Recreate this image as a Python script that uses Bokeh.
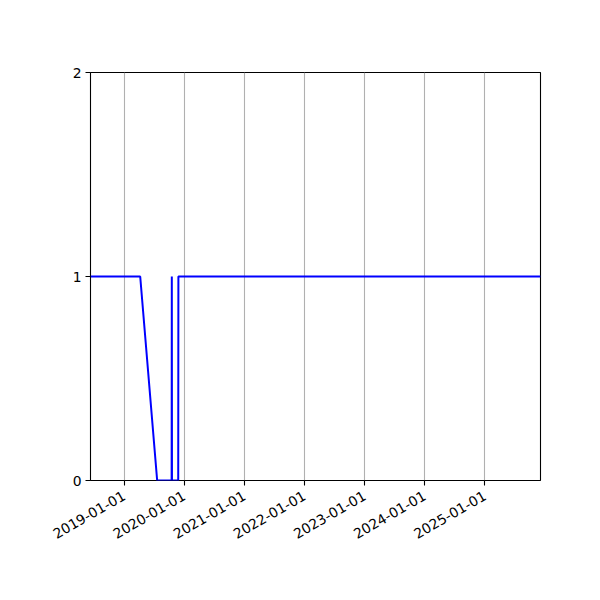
import math
from datetime import datetime
from bokeh.plotting import figure
from bokeh.models import FixedTicker, DatetimeTickFormatter, Range1d
from bokeh.embed import file_html
from bokeh.resources import INLINE

# data
dates = ["2018-06-11", "2019-04-09", "2019-07-21", "2019-10-17", "2019-10-18",
         "2019-10-19", "2019-11-26", "2019-11-27", "2025-12-05"]
values = [1, 1, 0, 0, 1, 0, 0, 1, 1]
x_tick_labels = ["2019-01-01", "2020-01-01", "2021-01-01", "2022-01-01",
                 "2023-01-01", "2024-01-01", "2025-01-01"]
y_ticks = [0, 1, 2]

xs = [datetime.strptime(d, "%Y-%m-%d") for d in dates]
tick_ms = [datetime.strptime(t, "%Y-%m-%d").timestamp() * 1000 for t in x_tick_labels]

W, H = 584, 584
left, top = 90, 72
fw, fh = 450, 408

p = figure(width=W, height=H, x_axis_type="datetime", output_backend="svg",
           toolbar_location=None,
           x_range=Range1d(xs[0], xs[-1]), y_range=Range1d(0, 2),
           min_border_left=left, min_border_top=top,
           min_border_right=W - left - fw, min_border_bottom=H - top - fh)
p.frame_width = fw
p.frame_height = fh

p.line(xs, values, line_color="#0000ff", line_width=2)

font = "DejaVu Sans"
for ax in (p.xaxis[0], p.yaxis[0]):
    ax.major_label_text_font = font
    ax.major_label_text_font_size = "13.9px"
    ax.major_label_text_color = "black"
    ax.axis_line_color = None
    ax.major_tick_line_color = "black"
    ax.major_tick_line_width = 1.1
    ax.major_tick_out = 5
    ax.major_tick_in = 0
    ax.minor_tick_line_color = None
    ax.major_label_standoff = 4

p.xaxis.ticker = FixedTicker(ticks=tick_ms)
fmt = "%Y-%m-%d"
p.xaxis.formatter = DatetimeTickFormatter(
    milliseconds=fmt, seconds=fmt, minsec=fmt, minutes=fmt, hourmin=fmt,
    hours=fmt, days=fmt, months=fmt, years=fmt)
p.xaxis.major_label_orientation = math.pi / 6
p.xaxis.major_label_standoff = 9
p.yaxis.ticker = FixedTicker(ticks=y_ticks)

p.xgrid.ticker = FixedTicker(ticks=tick_ms)
p.xgrid.grid_line_color = "#b0b0b0"
p.xgrid.grid_line_width = 1.1
p.ygrid.grid_line_color = None

p.outline_line_color = "black"
p.outline_line_width = 1.1
p.background_fill_color = "white"
p.border_fill_color = "white"

open("out.html", "w").write(file_html(p, INLINE))
